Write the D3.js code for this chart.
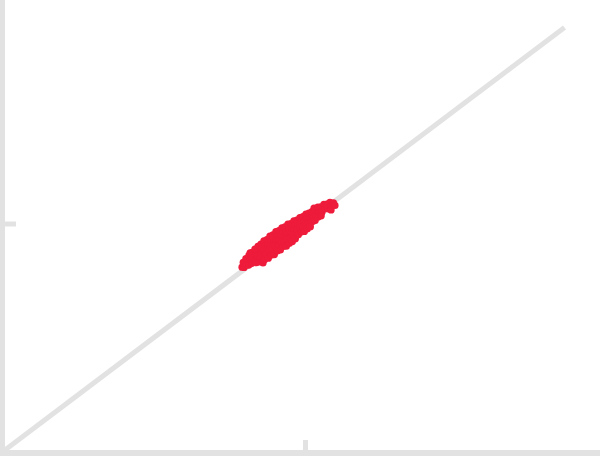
<!DOCTYPE html>
<html>
<head>
<meta charset="utf-8">
<script src="https://cdn.jsdelivr.net/npm/d3@7"></script>
<style>
  html, body { margin: 0; padding: 0; background: #fff; }
  svg { display: block; }
</style>
</head>
<body>
<svg id="chart" width="600" height="456"></svg>
<script>
// axis domain and the single tick on each axis (no labels shown)
const xDomain = [0, 2];
const yDomain = [0, 2];
const tickValues = [1];
// identity line y = x, drawn from 0 up to this value
const lineRange = [0, 1.865];

// observed points [x, y]
const points = [
  [0.790,0.807],
  [0.794,0.828],[0.797,0.806],
  [0.803,0.845],[0.807,0.817],
  [0.813,0.859],[0.816,0.834],[0.812,0.816],[0.817,0.870],
  [0.824,0.873],[0.827,0.851],[0.822,0.823],
  [0.833,0.887],[0.837,0.862],[0.834,0.837],[0.838,0.827],
  [0.843,0.899],[0.846,0.876],[0.842,0.856],[0.848,0.831],
  [0.853,0.909],[0.857,0.889],[0.854,0.869],[0.851,0.849],[0.858,0.834],[0.860,0.826],
  [0.863,0.923],[0.866,0.900],[0.862,0.883],[0.868,0.860],[0.865,0.840],
  [0.873,0.929],[0.877,0.907],[0.874,0.885],[0.871,0.865],[0.878,0.847],
  [0.883,0.944],[0.887,0.921],[0.884,0.901],[0.881,0.881],[0.888,0.861],
  [0.893,0.950],[0.897,0.927],[0.894,0.905],[0.891,0.885],[0.898,0.863],
  [0.903,0.964],[0.907,0.942],[0.904,0.922],[0.901,0.902],[0.908,0.879],
  [0.913,0.969],[0.917,0.948],[0.914,0.926],[0.911,0.903],[0.918,0.883],
  [0.923,0.981],[0.927,0.961],[0.924,0.941],[0.921,0.919],[0.928,0.899],
  [0.933,0.985],[0.937,0.962],[0.934,0.940],[0.931,0.920],[0.938,0.900],
  [0.943,0.997],[0.947,0.975],[0.944,0.954],[0.941,0.931],[0.948,0.913],
  [0.953,1.000],[0.957,0.978],[0.954,0.956],[0.951,0.936],[0.958,0.920],
  [0.963,1.012],[0.967,0.991],[0.964,0.971],[0.961,0.951],[0.968,0.933],
  [0.973,1.015],[0.977,0.993],[0.974,0.972],[0.978,0.950],
  [0.983,1.026],[0.987,1.004],[0.984,0.984],[0.988,0.962],
  [0.993,1.031],[0.997,1.008],[0.994,0.985],[0.998,0.965],
  [1.003,1.042],[1.007,1.020],[1.004,0.997],[1.008,0.977],
  [1.013,1.046],[1.017,1.023],[1.014,1.001],[1.018,0.986],
  [1.023,1.052],[1.027,1.030],[1.024,1.008],[1.030,1.068],
  [1.033,1.058],[1.037,1.036],[1.034,1.013],
  [1.043,1.072],[1.047,1.049],[1.044,1.029],
  [1.053,1.074],[1.057,1.051],[1.054,1.034],
  [1.063,1.085],[1.067,1.065],[1.070,1.082],
  [1.073,1.086],[1.077,1.064],
  [1.083,1.093],[1.087,1.075],[1.087,1.060],
  [1.095,1.091],[1.100,1.080]
];

const svg = d3.select("#chart");
const gray = "#e2e2e2";

const x = d3.scaleLinear().domain(xDomain).range([5, 605]);
const y = d3.scaleLinear().domain(yDomain).range([450, -3]);

// identity line
svg.append("line")
    .attr("x1", x(lineRange[0])).attr("y1", y(lineRange[0]))
    .attr("x2", x(lineRange[1])).attr("y2", y(lineRange[1]))
    .style("stroke", gray)
    .style("stroke-width", 5);

// left axis, tick pointing inward
const gy = svg.append("g")
    .attr("transform", "translate(2.5,0)")
    .call(d3.axisRight(y).tickValues(tickValues).tickSize(13.5).tickSizeOuter(0).tickFormat(""));

// bottom axis, tick pointing inward
const gx = svg.append("g")
    .attr("transform", "translate(0,453)")
    .call(d3.axisTop(x).tickValues(tickValues).tickSize(13).tickSizeOuter(0).tickFormat(""));

gy.select(".domain").attr("d", "M0,-10V460").style("stroke", gray).style("stroke-width", 5);
gx.select(".domain").attr("d", "M-10,0H610").style("stroke", gray).style("stroke-width", 6);
svg.selectAll(".tick line").style("stroke", gray).style("stroke-width", 5);

// points
svg.append("g")
    .selectAll("circle")
    .data(points)
    .enter()
    .append("circle")
        .attr("cx", d => x(d[0]))
        .attr("cy", d => y(d[1]))
        .attr("r", 3.6)
        .style("fill", "#ee1b3b");
</script>
</body>
</html>
